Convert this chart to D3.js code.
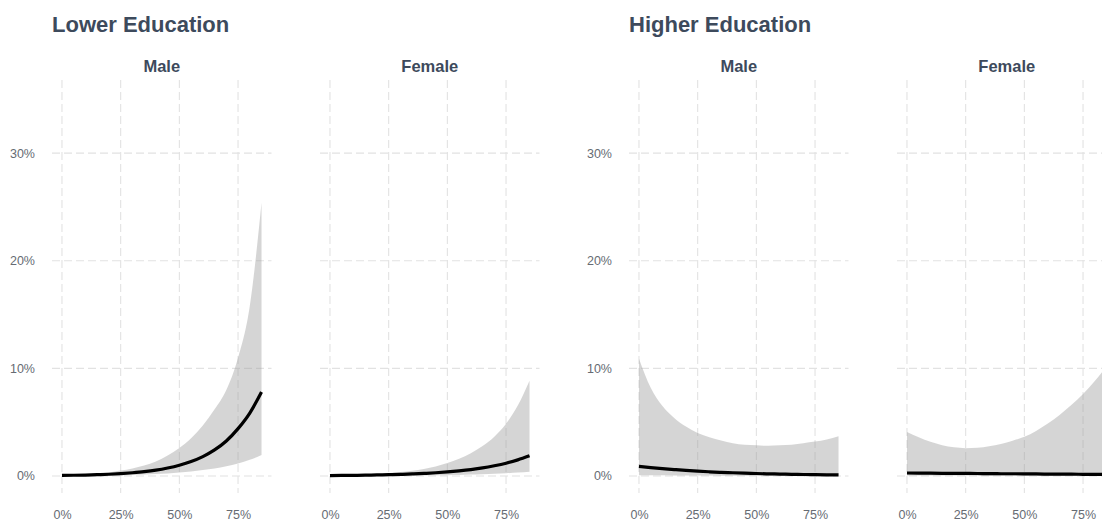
<!DOCTYPE html>
<html><head><meta charset="utf-8">
<script src="https://cdn.jsdelivr.net/npm/d3@7"></script>
<style>body{margin:0;background:#fff} svg{display:block}</style>
</head><body><svg id="c" width="1102" height="524"></svg>
<script>
// x: share (fraction), y: predicted probability (percent)
const share = [0,0.05,0.10,0.15,0.20,0.25,0.30,0.35,0.40,0.45,0.50,0.55,0.60,0.65,0.70,0.75,0.80,0.85];
const xTicks = [0,0.25,0.5,0.75];
const yTicks = [0,10,20,30];
const groupTitles = ["Lower Education","Higher Education"];
const sexLabels = ["Male","Female"];

const lowerMaleFit = [0.05,0.07,0.09,0.12,0.16,0.22,0.30,0.40,0.54,0.74,1.0,1.34,1.80,2.42,3.25,4.40,5.85,7.8];
const lowerMaleLo  = [0.01,0.015,0.02,0.03,0.045,0.065,0.09,0.13,0.18,0.24,0.32,0.42,0.55,0.70,0.90,1.15,1.50,1.95];
const lowerMaleHi  = [0.08,0.11,0.16,0.23,0.33,0.50,0.70,0.98,1.35,1.90,2.60,3.50,4.70,6.20,8.00,11.0,15.8,25.4];

const lowerFemaleFit = [0.04,0.05,0.06,0.08,0.10,0.12,0.15,0.19,0.24,0.30,0.38,0.48,0.60,0.75,0.95,1.19,1.50,1.88];
const lowerFemaleLo  = [0.00,0.00,0.01,0.01,0.02,0.02,0.03,0.04,0.05,0.06,0.08,0.10,0.13,0.16,0.20,0.25,0.32,0.40];
const lowerFemaleHi  = [0.05,0.07,0.10,0.14,0.19,0.26,0.36,0.49,0.66,0.89,1.20,1.60,2.12,2.78,3.65,4.85,6.55,8.86];

const higherMaleFit = [0.90,0.78,0.68,0.60,0.52,0.45,0.39,0.34,0.30,0.26,0.23,0.20,0.18,0.16,0.14,0.12,0.11,0.10];
const higherMaleLo  = [0.08,0.07,0.06,0.05,0.05,0.04,0.04,0.03,0.03,0.03,0.02,0.02,0.02,0.02,0.01,0.01,0.01,0.01];
const higherMaleHi  = [10.9,8.2,6.5,5.4,4.6,4.0,3.6,3.3,3.05,2.9,2.85,2.8,2.85,2.9,3.05,3.2,3.4,3.7];

const higherFemaleFit = [0.28,0.27,0.26,0.25,0.24,0.24,0.23,0.22,0.21,0.21,0.20,0.19,0.18,0.18,0.17,0.16,0.16,0.15];
const higherFemaleLo  = [0.04,0.04,0.04,0.04,0.04,0.04,0.03,0.03,0.03,0.03,0.03,0.03,0.03,0.03,0.02,0.02,0.02,0.02];
const higherFemaleHi  = [4.1,3.6,3.18,2.86,2.66,2.58,2.62,2.76,2.98,3.28,3.64,4.19,4.87,5.67,6.59,7.63,8.83,10.18];

const panels = [
  {g:0, s:0, fit:lowerMaleFit, lo:lowerMaleLo, hi:lowerMaleHi},
  {g:0, s:1, fit:lowerFemaleFit, lo:lowerFemaleLo, hi:lowerFemaleHi},
  {g:1, s:0, fit:higherMaleFit, lo:higherMaleLo, hi:higherMaleHi},
  {g:1, s:1, fit:higherFemaleFit, lo:higherFemaleLo, hi:higherFemaleHi}
];

const svg = d3.select("#c");
const panelW = 219.5, innerGap = 48.5, groupStart = [52, 629];
const plotTop = 80, plotBottom = 493;
const y = d3.scaleLinear().domain([-1.58, 36.8]).range([plotBottom, plotTop]);
const font = "'Liberation Sans', Arial, Helvetica, sans-serif";
const titleCol = "#3d4a5c", tickCol = "#666b73", gridCol = "#e2e2e2";

groupTitles.forEach((t,i) => {
  svg.append("text").attr("x", groupStart[i]).attr("y", 32)
    .attr("font-family", font).attr("font-weight", "bold").attr("font-size", 22)
    .attr("fill", titleCol).text(t);
});

panels.forEach(p => {
  const x0 = groupStart[p.g] + p.s * (panelW + innerGap);
  const x = d3.scaleLinear().domain([-0.0425, 0.8925]).range([x0, x0 + panelW]);
  const g = svg.append("g");

  // grid
  g.selectAll(".hg").data(yTicks).join("line")
    .attr("x1", x0).attr("x2", x0 + panelW)
    .attr("y1", d => y(d)).attr("y2", d => y(d))
    .attr("stroke", gridCol).attr("stroke-width", 1.1).attr("stroke-dasharray", "8,4");
  g.selectAll(".vg").data(xTicks).join("line")
    .attr("x1", d => x(d)).attr("x2", d => x(d))
    .attr("y1", plotTop).attr("y2", plotBottom)
    .attr("stroke", gridCol).attr("stroke-width", 1.1).attr("stroke-dasharray", "8,4");

  // strip label
  g.append("text").attr("x", x0 + panelW/2).attr("y", 72).attr("text-anchor", "middle")
    .attr("font-family", font).attr("font-weight", "bold").attr("font-size", 16.5)
    .attr("fill", titleCol).text(sexLabels[p.s]);

  // ribbon
  const area = d3.area().x((d,i) => x(share[i])).y0((d,i) => y(p.lo[i])).y1((d,i) => y(p.hi[i]))
    .curve(d3.curveMonotoneX);
  g.append("path").datum(share).attr("d", area).attr("fill", "#9a9a9a").attr("fill-opacity", 0.42);

  // line
  const line = d3.line().x((d,i) => x(share[i])).y((d,i) => y(p.fit[i])).curve(d3.curveMonotoneX);
  g.append("path").datum(share).attr("d", line).attr("fill", "none")
    .attr("stroke", "#000").attr("stroke-width", 3.2);

  // x axis
  const xa = g.append("g").attr("transform", `translate(0,${plotBottom + 14})`)
    .call(d3.axisBottom(x).tickValues(xTicks).tickFormat(d3.format(".0%")).tickSize(0));
  xa.select(".domain").remove();
  xa.selectAll("text").attr("font-family", font).attr("font-size", 12.5).attr("fill", tickCol);

  // y axis on first facet of each group
  if (p.s === 0) {
    const ya = g.append("g").attr("transform", `translate(${x0 - 14},0)`)
      .call(d3.axisLeft(y).tickValues(yTicks).tickFormat(d => d + "%").tickSize(0));
    ya.select(".domain").remove();
    ya.selectAll("text").attr("font-family", font).attr("font-size", 12.5).attr("fill", tickCol);
  }
});
</script>
</body></html>
